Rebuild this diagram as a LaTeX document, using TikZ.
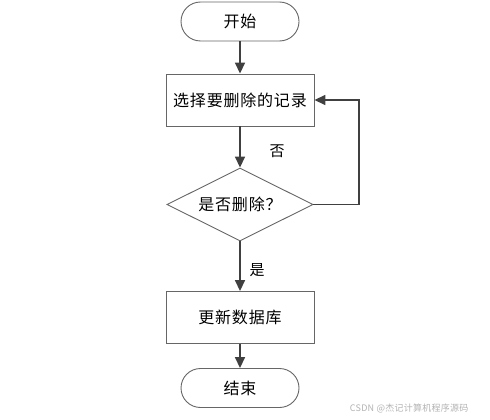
\documentclass[tikz,border=0pt]{standalone}
\usepackage{fontspec}
\setmainfont{Noto Sans CJK SC}[LetterSpace=5]
\newfontfamily\wmfont{Noto Sans CJK SC}[LetterSpace=3]
\usetikzlibrary{arrows.meta,shapes.geometric,calc}
\begin{document}
\begin{tikzpicture}[x=1pt,y=-1pt,
  every node/.style={font=\fontsize{16}{19}\selectfont, text=black},
  term/.style={draw=black!60, line width=0.9pt, rounded corners=19.5pt, minimum width=118pt, minimum height=39pt, inner sep=0pt},
  procbox/.style={draw=black!60, line width=0.9pt, minimum width=148pt, minimum height=52pt, inner sep=0pt},
  decide/.style={draw=black!60, line width=0.9pt, diamond, aspect=2, minimum width=146pt, minimum height=73pt, inner sep=0pt},
  flow/.style={draw=black!75, line width=1.6pt, -{Triangle[length=11pt,width=10pt]}},
  lbl/.style={font=\fontsize{15}{17}\selectfont}
]
\useasboundingbox (0,0) rectangle (490,420);
\node[term] (start) at (240,21.5) {开始};
\node[procbox] (sel) at (240,100) {选择要删除的记录};
\node[decide] (dec) at (240,204.5) {是否删除？};
\node[procbox] (upd) at (240,317.5) {更新数据库};
\node[term] (stop) at (240,388) {结束};
\coordinate (loop) at (359,204.5);
\draw[flow] (start) -- (sel);
\draw[flow] (sel) -- (dec);
\draw[flow] (dec) -- (upd);
\draw[flow] (upd) -- (stop);
\draw[flow] (dec.east) -- (loop) |- (sel.east);
\node[lbl] (no) at (277,151) {否};
\node[lbl] (yes) at (257,270) {是};
\node[font=\wmfont\fontsize{9}{10}\selectfont, text=black!30, anchor=east] (wm) at (472,408) {CSDN @杰记计算机程序源码};
\end{tikzpicture}
\end{document}
